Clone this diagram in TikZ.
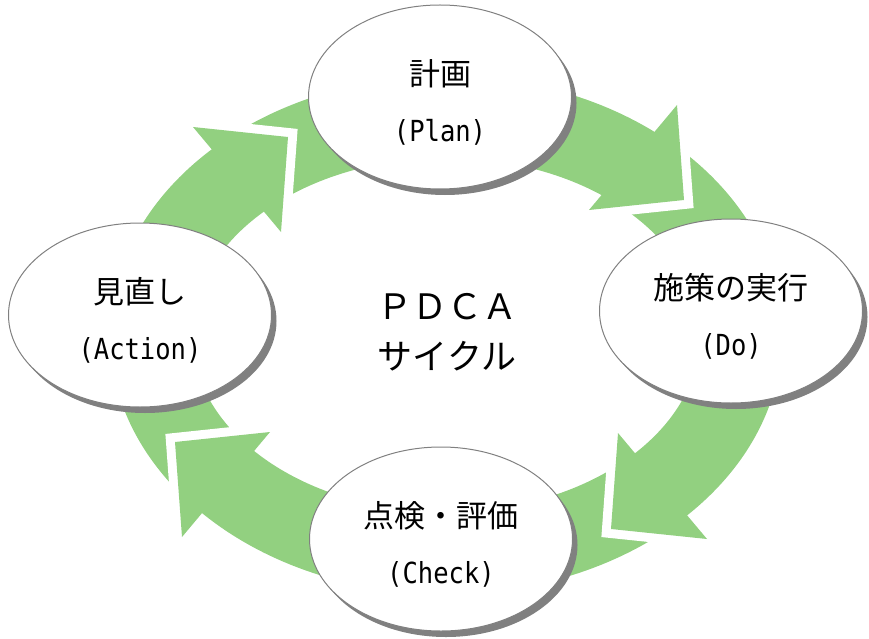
\documentclass[tikz,border=0pt]{standalone}
\usepackage{fontspec}
\setmainfont{Noto Sans CJK JP}
\newfontfamily\monofont[FakeStretch=0.88]{DejaVu Sans Mono}
\usepackage{tikz}
\usetikzlibrary{shapes.geometric, shadows}
\usepackage{xcolor}
\definecolor{ringgreen}{RGB}{146,208,128}
\definecolor{shadegray}{RGB}{128,128,128}
\newcommand{\engtag}[1]{{\monofont\fontsize{29}{57}\selectfont #1}}

\begin{document}
\begin{tikzpicture}[x=1pt, y=-1pt,
  phase/.style={ellipse, draw=shadegray, line width=1pt, fill=white, align=center,
                minimum width=263pt, minimum height=184pt, inner sep=0pt,
                font=\fontsize{31}{56}\selectfont,
                drop shadow={shadow xshift=5pt, shadow yshift=-6pt, fill=shadegray, opacity=1}},
  gapline/.style={draw=white, line width=18pt, miter limit=10},
  head/.style={fill=ringgreen}]
\useasboundingbox (0,0) rectangle (869,639);
% green ring under the four phases
\fill[ringgreen, even odd rule] (446,335) ellipse [x radius=336, y radius=259]
                                (446,335) ellipse [x radius=254, y radius=177];
% arrow heads, cut from the following tail by a white gap
\draw[gapline] (193,127) -- (288,137) -- (281,232);
\fill[head] (193,127) -- (288,137) -- (281,232) -- cycle;
\draw[gapline] (677,105) -- (684,200) -- (589,210);
\fill[head] (677,105) -- (684,200) -- (589,210) -- cycle;
\draw[gapline] (707,539) -- (611,529) -- (618,433);
\fill[head] (707,539) -- (611,529) -- (618,433) -- cycle;
\draw[gapline] (182,537) -- (175,442) -- (270,432);
\fill[head] (182,537) -- (175,442) -- (270,432) -- cycle;
% phases
\node[phase] (plan) at (440,97) {\rule{0pt}{37pt}計画\\\engtag{(Plan)}};
\node[phase] (do) at (731,311) {\rule{0pt}{37pt}施策の実行\\\engtag{(Do)}};
\node[phase] (check) at (441,539) {\rule{0pt}{37pt}点検・評価\\\engtag{(Check)}};
\node[phase] (act) at (140,315) {\rule{0pt}{37pt}見直し\\\engtag{(Action)}};
\node[font=\fontsize{35}{50}\selectfont, align=center] (title) at (447,332) {ＰＤＣＡ\\サイクル};
\end{tikzpicture}
\end{document}
